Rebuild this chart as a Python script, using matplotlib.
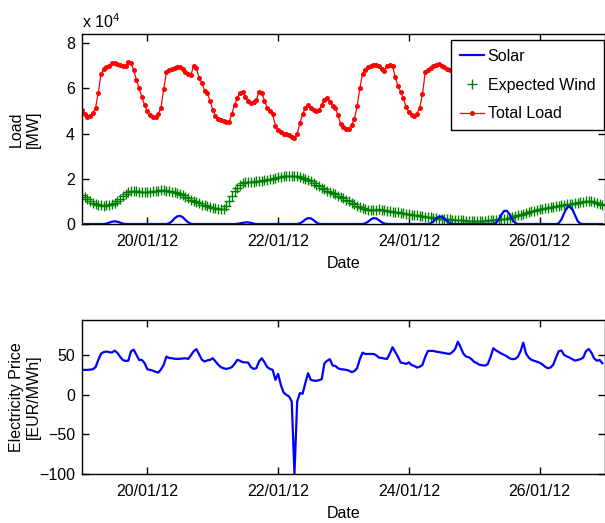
import numpy as np
import pandas as pd
import matplotlib
matplotlib.use('Agg')
import matplotlib.pyplot as plt
import matplotlib.dates as mdates
from matplotlib.lines import Line2D

plt.rcParams['font.family'] = ['Liberation Sans', 'DejaVu Sans']
plt.rcParams['mathtext.fontset'] = 'custom'
plt.rcParams['mathtext.rm'] = 'Liberation Sans'
plt.rcParams['font.size'] = 11.5

# hourly timestamps, 19/01/12 00:00 -> 26/01/12 23:00
start_date = '2012-01-19'
n_hours = 192

# total load [x 10^4 MW], one row per day
total_load = [
    5.05, 4.85, 4.75, 4.78, 4.90, 5.15, 5.80, 6.65, 6.85, 6.93, 7.00, 7.10, 7.12, 7.08, 7.04, 7.00, 6.98, 7.15, 7.10, 6.80, 6.37, 6.00, 5.60, 5.25,
    4.98, 4.80, 4.72, 4.74, 4.85, 5.15, 5.96, 6.70, 6.82, 6.86, 6.88, 6.93, 6.95, 6.86, 6.72, 6.62, 6.60, 7.00, 6.90, 6.45, 6.25, 5.90, 5.78, 5.45,
    5.05, 4.78, 4.66, 4.60, 4.55, 4.52, 4.51, 4.85, 5.28, 5.55, 5.80, 5.85, 5.60, 5.44, 5.37, 5.40, 5.46, 5.85, 5.80, 5.45, 5.15, 4.98, 4.85, 4.35,
    4.15, 4.06, 4.00, 3.96, 3.93, 3.86, 3.78, 4.00, 4.45, 4.85, 5.15, 5.27, 5.15, 5.05, 4.99, 5.03, 5.25, 5.50, 5.55, 5.40, 5.20, 5.12, 4.80, 4.40,
    4.27, 4.20, 4.22, 4.38, 4.65, 5.20, 6.00, 6.65, 6.80, 6.92, 6.98, 7.03, 7.05, 6.98, 6.85, 6.78, 7.00, 7.05, 6.98, 6.50, 6.10, 5.85, 5.55, 5.17,
    4.95, 4.83, 4.77, 4.88, 5.15, 5.75, 6.70, 6.82, 6.90, 6.97, 7.03, 7.06, 7.00, 6.94, 6.87, 6.80, 6.75, 7.00, 6.90, 6.40, 6.05, 5.70, 5.40, 5.10,
    4.90, 4.78, 4.72, 4.74, 4.85, 5.10, 5.90, 6.65, 6.82, 6.90, 6.95, 7.00, 7.02, 6.97, 6.90, 6.82, 6.78, 7.02, 6.92, 6.45, 6.10, 5.75, 5.45, 5.15,
    4.95, 4.80, 4.74, 4.76, 4.88, 5.12, 5.85, 6.60, 6.80, 6.88, 6.92, 6.96, 6.98, 6.93, 6.86, 6.80, 6.75, 6.98, 6.88, 6.40, 6.05, 5.80, 5.55, 5.40,
]

# expected wind generation [x 10^4 MW]
expected_wind = [
    1.30, 1.20, 1.10, 1.00, 0.94, 0.88, 0.85, 0.82, 0.81, 0.82, 0.85, 0.89, 0.95, 1.02, 1.12, 1.22, 1.33, 1.42, 1.46, 1.48, 1.46, 1.43, 1.42, 1.42,
    1.42, 1.43, 1.44, 1.46, 1.48, 1.49, 1.49, 1.48, 1.46, 1.43, 1.40, 1.36, 1.32, 1.27, 1.21, 1.14, 1.08, 1.02, 0.97, 0.91, 0.86, 0.82, 0.78, 0.74,
    0.71, 0.69, 0.67, 0.67, 0.68, 0.80, 1.00, 1.25, 1.45, 1.60, 1.73, 1.80, 1.86, 1.87, 1.87, 1.87, 1.88, 1.90, 1.92, 1.94, 1.95, 1.97, 2.00, 2.03,
    2.07, 2.09, 2.10, 2.11, 2.11, 2.11, 2.11, 2.10, 2.08, 2.05, 2.01, 1.96, 1.90, 1.83, 1.74, 1.66, 1.60, 1.54, 1.48, 1.42, 1.36, 1.31, 1.25, 1.19,
    1.14, 1.08, 1.01, 0.94, 0.88, 0.81, 0.75, 0.70, 0.66, 0.63, 0.63, 0.63, 0.64, 0.66, 0.64, 0.61, 0.58, 0.57, 0.55, 0.54, 0.52, 0.50, 0.48, 0.46,
    0.44, 0.42, 0.40, 0.39, 0.37, 0.35, 0.33, 0.31, 0.29, 0.27, 0.25, 0.24, 0.23, 0.22, 0.21, 0.20, 0.19, 0.18, 0.17, 0.16, 0.16, 0.15, 0.14, 0.14,
    0.14, 0.14, 0.14, 0.14, 0.15, 0.16, 0.17, 0.18, 0.19, 0.20, 0.21, 0.22, 0.24, 0.27, 0.31, 0.35, 0.38, 0.42, 0.46, 0.50, 0.53, 0.56, 0.59, 0.62,
    0.65, 0.67, 0.69, 0.71, 0.73, 0.76, 0.79, 0.81, 0.83, 0.85, 0.87, 0.88, 0.90, 0.92, 0.94, 0.96, 0.98, 1.00, 1.02, 1.01, 0.97, 0.93, 0.89, 0.85,
]

# solar generation [x 10^4 MW]
solar = [
    0, 0, 0, 0, 0, 0, 0, 0, 0, 0.02, 0.06, 0.10, 0.12, 0.10, 0.06, 0.02, 0, 0, 0, 0, 0, 0, 0, 0,
    0, 0, 0, 0, 0, 0, 0, 0, 0.03, 0.12, 0.25, 0.34, 0.36, 0.30, 0.18, 0.07, 0.01, 0, 0, 0, 0, 0, 0, 0,
    0, 0, 0, 0, 0, 0, 0, 0, 0, 0.01, 0.03, 0.05, 0.07, 0.07, 0.05, 0.02, 0, 0, 0, 0, 0, 0, 0, 0,
    0, 0, 0, 0, 0, 0, 0, 0, 0.03, 0.10, 0.20, 0.26, 0.25, 0.17, 0.07, 0.01, 0, 0, 0, 0, 0, 0, 0, 0,
    0, 0, 0, 0, 0, 0, 0, 0, 0.03, 0.10, 0.20, 0.26, 0.25, 0.17, 0.08, 0.02, 0, 0, 0, 0, 0, 0, 0, 0,
    0, 0, 0, 0, 0, 0, 0, 0, 0.03, 0.11, 0.24, 0.32, 0.33, 0.25, 0.12, 0.03, 0, 0, 0, 0, 0, 0, 0, 0,
    0, 0, 0, 0, 0, 0, 0, 0, 0.05, 0.20, 0.42, 0.58, 0.58, 0.42, 0.20, 0.05, 0, 0, 0, 0, 0, 0, 0, 0,
    0, 0, 0, 0, 0, 0, 0, 0.03, 0.20, 0.48, 0.72, 0.78, 0.65, 0.38, 0.12, 0.01, 0, 0, 0, 0, 0, 0, 0, 0,
]

# day-ahead electricity price [EUR/MWh]
price = [
    31.5, 31.5, 31.5, 31.8, 32.3, 35.0, 44.0, 52.0, 54.0, 54.6, 54.0, 53.3, 55.8, 53.0, 48.0, 44.0, 42.8, 43.0, 55.0, 57.0, 50.4, 44.0, 44.0, 40.0,
    32.3, 31.5, 30.6, 29.0, 28.1, 32.0, 38.0, 48.2, 46.5, 46.2, 45.5, 45.3, 45.5, 45.8, 46.2, 45.3, 50.0, 55.0, 57.7, 51.0, 44.5, 42.0, 43.5, 44.1,
    46.2, 42.0, 38.0, 34.9, 33.5, 32.7, 33.5, 34.9, 39.0, 44.1, 43.0, 41.2, 41.0, 40.7, 35.0, 32.7, 33.6, 42.0, 46.2, 41.0, 35.0, 32.7, 31.5, 18.9,
    26.4, 12.6, 3.0, 0.0, -2.1, -8.4, -100.0, -8.4, 2.1, 1.3, 15.0, 27.3, 18.9, 18.0, 17.6, 18.5, 19.7, 39.9, 43.0, 45.0, 37.0, 36.5, 33.5, 32.3,
    32.0, 31.5, 30.5, 28.6, 30.0, 33.6, 45.0, 53.3, 51.6, 51.6, 51.6, 51.6, 50.0, 47.0, 46.5, 45.8, 45.3, 52.0, 60.1, 54.0, 48.0, 40.7, 40.0, 39.0,
    41.0, 37.5, 36.5, 34.4, 35.5, 37.8, 48.0, 55.4, 55.4, 55.4, 54.5, 54.0, 53.3, 52.8, 52.0, 51.6, 54.0, 58.0, 67.1, 60.0, 52.0, 48.2, 47.5, 45.0,
    41.5, 40.0, 37.8, 37.3, 36.9, 39.0, 48.0, 58.8, 56.0, 54.0, 52.0, 50.4, 48.5, 46.0, 45.0, 45.3, 48.0, 55.0, 65.9, 52.0, 47.0, 44.1, 43.0, 41.8,
    40.5, 38.5, 35.5, 33.6, 34.4, 38.0, 47.0, 55.0, 56.0, 50.4, 48.5, 47.0, 45.0, 43.2, 44.0, 45.0, 47.0, 55.0, 57.9, 53.3, 46.0, 43.0, 44.1, 39.9,
]

times = pd.date_range(start_date, periods=n_hours, freq='h')
x_min = pd.Timestamp('2012-01-19')
x_max = pd.Timestamp('2012-01-27')
tick_days = pd.date_range('2012-01-20', '2012-01-26', freq='2D')

blue = (0, 0, 1)
green = (0, 0.5, 0)
red = (1, 0, 0)


# matlab-ish boxed axes with inward ticks on all sides
def style_axes(ax):
    for s in ax.spines.values():
        s.set_linewidth(1.0)
    ax.tick_params(direction='in', length=5, width=1.0, top=True, right=True,
                   labelsize=11.5)
    ax.tick_params(axis='x', pad=7)
    ax.tick_params(axis='y', pad=5)
    ax.set_xlim(x_min, x_max)
    ax.set_xticks(tick_days)
    ax.xaxis.set_major_formatter(mdates.DateFormatter('%d/%m/%y'))
    ax.set_xlabel('Date', labelpad=5)
    ax.yaxis.set_label_coords(-0.078, 0.5)


fig = plt.figure(figsize=(6.05, 5.23), dpi=100)
ax1 = fig.add_axes([0.1355, 0.5717, 0.8645, 0.3633])
ax2 = fig.add_axes([0.1355, 0.0937, 0.8645, 0.2945])

# top: load, wind and solar
ax1.plot(times, total_load, '-', color=red, lw=0.9, marker='o', ms=3.6, mew=0, zorder=2)
ax1.plot(times, expected_wind, '+', color=green, ms=7, mew=1.0, zorder=2)
ax1.plot(times, solar, '-', color=blue, lw=1.6, zorder=3)
ax1.set_ylim(0, 8.4)
ax1.set_yticks([0, 2, 4, 6, 8])
ax1.set_ylabel('Load\n[MW]', multialignment='center')
style_axes(ax1)
ax1.text(0, 1.015, r'x 10$^\mathregular{4}$', transform=ax1.transAxes,
         ha='left', va='bottom', fontsize=11.5)

leg_handles = [
    Line2D([], [], color=blue, lw=1.6, label='Solar'),
    Line2D([], [], color=green, ls='none', marker='+', ms=7, mew=1.0, label='Expected Wind'),
    Line2D([], [], color=red, lw=0.9, marker='o', ms=3.6, mew=0, label='Total Load'),
]
ax1.legend(handles=leg_handles, loc='upper left', bbox_to_anchor=(451 / 605, 1 - 40 / 523),
           bbox_transform=fig.transFigure, borderaxespad=0, fancybox=False,
           edgecolor='black', framealpha=1, fontsize=11.5, handlelength=1.5,
           handletextpad=0.25, labelspacing=0.86, borderpad=0.55, numpoints=1)
ax1.get_legend().get_frame().set_linewidth(1.0)

# bottom: price
ax2.plot(times, price, '-', color=blue, lw=1.6)
ax2.set_ylim(-100, 94.5)
ax2.set_yticks([-100, -50, 0, 50])
ax2.set_ylabel('Electricity Price\n[EUR/MWh]', multialignment='center')
style_axes(ax2)

fig.savefig('out.png', dpi=100)
